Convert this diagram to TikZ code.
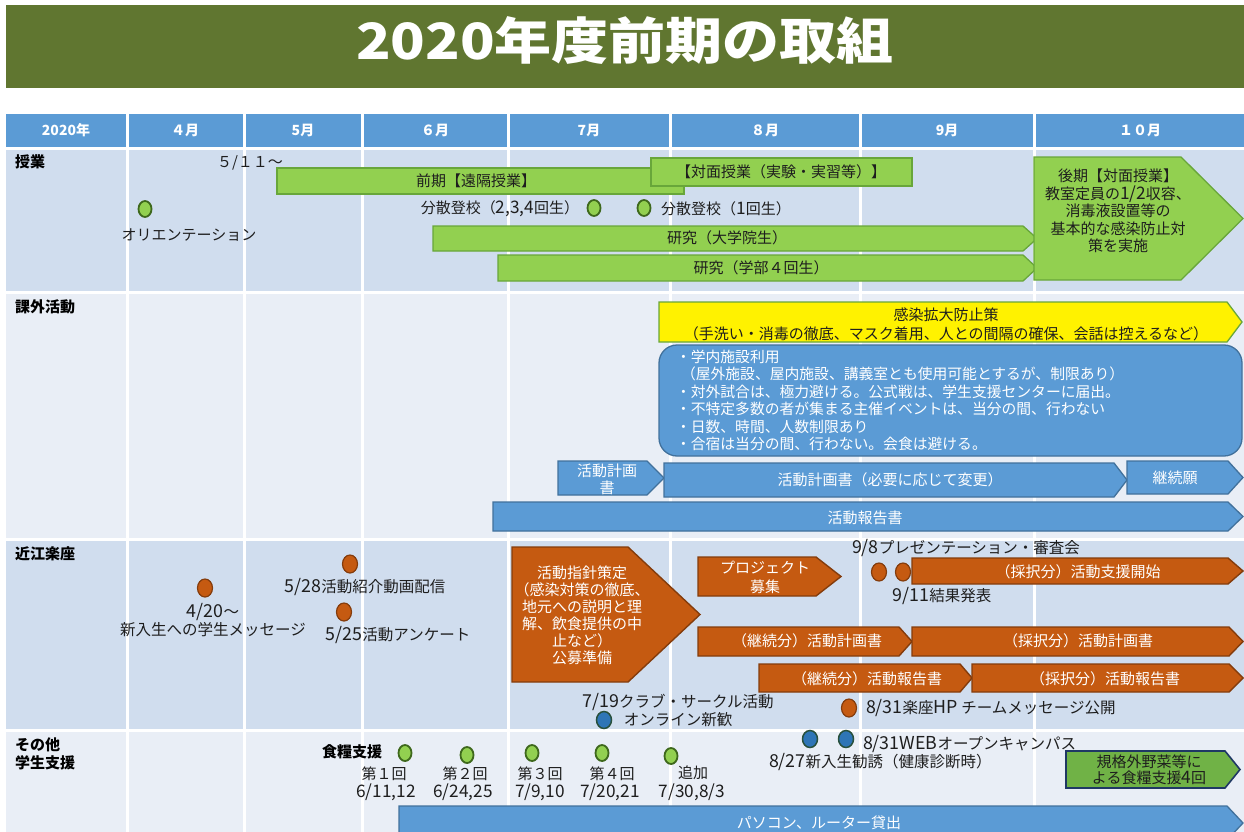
\documentclass[tikz,border=0pt]{standalone}
\usepackage{fontspec}
\usepackage{graphicx}
\setmainfont{Noto Sans CJK JP}
\newfontfamily\latfont{Noto Sans CJK JP}[Scale=1.15]
\newcommand\latn[1]{{\latfont #1}}
\usetikzlibrary{shapes.geometric}
\definecolor{titlegreen}{RGB}{96,118,48}
\definecolor{hdrblue}{RGB}{91,155,213}
\definecolor{rowA}{RGB}{208,221,238}
\definecolor{rowB}{RGB}{233,238,246}
\definecolor{lgreen}{RGB}{146,208,80}
\definecolor{lgreenD}{RGB}{104,166,58}
\definecolor{circG}{RGB}{62,104,28}
\definecolor{orng}{RGB}{197,90,17}
\definecolor{orngD}{RGB}{132,60,12}
\definecolor{bblue}{RGB}{91,155,213}
\definecolor{bblueD}{RGB}{65,113,156}
\definecolor{dblue}{RGB}{46,117,182}
\definecolor{dotrim}{RGB}{40,80,60}
\definecolor{navy}{RGB}{31,56,100}
\definecolor{kgreen}{RGB}{112,178,70}
\definecolor{txtc}{RGB}{30,30,30}
\newcommand\pentshape[6]{\draw[#1] (#2,#3) -- ({#4-#6},#3) -- (#4,{(#3+#5)/2}) -- ({#4-#6},#5) -- (#2,#5) -- cycle;}
\tikzset{
  every node/.style={inner sep=0pt, outer sep=0pt},
  txt/.style={text=txtc, font=\fontsize{15}{17.5}\selectfont, align=center},
  wtxt/.style={text=white, font=\fontsize{15}{17.5}\selectfont, align=center},
  lbl/.style={anchor=west, text=black, font=\fontsize{15}{18}\selectfont\bfseries, align=left},
  hdr/.style={text=white, font=\fontsize{14}{16}\selectfont\bfseries},
  gbar/.style={fill=lgreen, draw=lgreenD, line width=1.3pt},
  bbar/.style={fill=bblue, draw=bblueD, line width=1.3pt},
  obar/.style={fill=orng, draw=orngD, line width=1.4pt},
  ybar/.style={fill=yellow, draw=lgreenD, line width=1.3pt},
  kbar/.style={fill=kgreen, draw=navy, line width=1.6pt},
  gdot/.style={ellipse, minimum width=13pt, minimum height=16pt, fill=lgreen, draw=circG, line width=1.8pt},
  odot/.style={ellipse, minimum width=15pt, minimum height=18pt, fill=orng, draw=orngD, line width=1.2pt},
  bdot/.style={ellipse, minimum width=15pt, minimum height=17pt, fill=dblue, draw=dotrim, line width=1.5pt},
}
\begin{document}
\begin{tikzpicture}[x=1pt,y=-1pt]
\useasboundingbox (0,0) rectangle (1244,832);
\clip (0,0) rectangle (1244,832);
\fill[white] (0,0) rectangle (1244,832);
% title
\fill[titlegreen] (6,5) rectangle (1244,88);
\node[text=white, font=\fontsize{50}{55}\selectfont\bfseries] (title) at (625,41) {\scalebox{1.14}[1]{2020年度前期の取組}};
% grid
\fill[hdrblue] (6,114) rectangle (1244,147);
\fill[rowA] (6,150) rectangle (1244,291);
\fill[rowB] (6,294) rectangle (1244,538);
\fill[rowA] (6,541) rectangle (1244,729);
\fill[rowB] (6,732) rectangle (1244,832);
\foreach \x in {127,244,362,508,670,860,1034} \draw[white, line width=3pt] (\x,112) -- (\x,832);
% header
\node[hdr] (h0) at (66,130) {2020年};
\node[hdr] (h4) at (185,130) {４月};
\node[hdr] (h5) at (303,130) {5月};
\node[hdr] (h6) at (435,130) {６月};
\node[hdr] (h7) at (589,130) {7月};
\node[hdr] (h8) at (765,130) {８月};
\node[hdr] (h9) at (947,130) {9月};
\node[hdr] (h10) at (1140,130) {１０月};
% row labels
\node[lbl] (r1) at (15,162) {授業};
\node[lbl] (r2) at (15,307) {課外活動};
\node[lbl] (r3) at (15,554) {近江楽座};
\node[lbl, font=\fontsize{15}{18}\selectfont\bfseries] (r4) at (15,754) {その他\\学生支援};
% ---------- row 1
\node[txt] (d511) at (250,163) {５/１１～};
\draw[gbar] (277,168) rectangle (684,194);
\node[txt] (zenki) at (476,181) {前期【遠隔授業】};
\draw[gbar] (651,158) rectangle (912,186);
\node[txt] (taimen) at (781,172) {【対面授業（実験・実習等）】};
\node[gdot] (o1) at (145,209) {};
\node[txt] (ori) at (189,235) {オリエンテーション};
\node[txt] (bun1) at (500,209) {分散登校（\latn{2,3,4}回生）};
\node[gdot] (o2) at (594,208) {};
\node[gdot] (o3) at (644,208) {};
\node[txt] (bun2) at (726,209) {分散登校（\latn{1}回生）};
\pentshape{gbar}{433}{226}{1037}{251}{14}
\node[txt] (ken1) at (727,238) {研究（大学院生）};
\pentshape{gbar}{498}{255}{1037}{281}{14}
\node[txt] (ken2) at (761,268) {研究（学部４回生）};
\pentshape{gbar}{1034}{157}{1243}{280}{62}
\node[txt] (kouki) at (1118,211) {後期【対面授業】\\教室定員の\latn{1/2}収容、\\消毒液設置等の\\基本的な感染防止対\\策を実施};
% ---------- row 2
\pentshape{ybar}{659}{302}{1242}{342}{15}
\node[txt, font=\fontsize{15}{19}\selectfont] (kansen) at (946,324) {感染拡大防止策\\（手洗い・消毒の徹底、マスク着用、人との間隔の確保、会話は控えるなど）};
\draw[bbar, rounded corners=18pt] (659,345) rectangle (1242,456);
\node[wtxt, anchor=north west, align=left, font=\fontsize{14.8}{17.4}\selectfont] (rules) at (676,350) {・学内施設利用\\\hspace*{5pt}（屋外施設、屋内施設、講義室とも使用可能とするが、制限あり）\\・対外試合は、極力避ける。公式戦は、学生支援センターに届出。\\・不特定多数の者が集まる主催イベントは、当分の間、行わない\\・日数、時間、人数制限あり\\・合宿は当分の間、行わない。会食は避ける。};
\pentshape{bbar}{558}{461}{664}{495}{17}
\node[wtxt, font=\fontsize{15}{17}\selectfont] (keikaku1) at (607,479) {活動計画\\書};
\pentshape{bbar}{664}{463}{1127}{497}{13}
\node[wtxt] (keikaku2) at (890,480) {活動計画書（必要に応じて変更）};
\pentshape{bbar}{1127}{461}{1243}{494}{15}
\node[wtxt] (keizoku) at (1175,478) {継続願};
\pentshape{bbar}{493}{502}{1243}{531}{15}
\node[wtxt] (houkoku) at (865,518) {活動報告書};
% ---------- row 3
\node[odot] (p1) at (205,588) {};
\node[txt, font=\fontsize{15.5}{18}\selectfont] (m420) at (213,620) {\latn{4/20}～\\新入生への学生メッセージ};
\node[odot] (p2) at (350,564) {};
\node[txt, font=\fontsize{15.5}{18}\selectfont] (m528) at (365,587) {\latn{5/28}活動紹介動画配信};
\node[odot] (p3) at (344,612) {};
\node[txt, font=\fontsize{15.5}{18}\selectfont] (m525) at (398,635) {\latn{5/25}活動アンケート};
\pentshape{obar}{512}{547}{700}{682}{72}
\node[wtxt, font=\fontsize{15}{17}\selectfont] (shishin) at (582,615) {活動指針策定\\（感染対策の徹底、\\地元への説明と理\\解、飲食提供の中\\止など）\\公募準備};
\node[txt, font=\fontsize{15.5}{18}\selectfont] (m719) at (678,702) {\latn{7/19}クラブ・サークル活動};
\node[bdot] (q1) at (604,720) {};
\node[txt, font=\fontsize{15.5}{18}\selectfont] (shinkan) at (678,720) {オンライン新歓};
\pentshape{obar}{698}{557}{841}{596}{25}
\node[wtxt, font=\fontsize{15}{19}\selectfont] (boshu) at (765,577) {プロジェクト\\募集};
\node[txt, font=\fontsize{15.5}{18}\selectfont] (m98) at (966,548) {\latn{9/8}プレゼンテーション・審査会};
\node[odot] (p4) at (879,572) {};
\node[odot] (p5) at (903,572) {};
\pentshape{obar}{912}{558}{1243}{584}{15}
\node[wtxt] (shien) at (1078,572) {（採択分）活動支援開始};
\node[txt, font=\fontsize{15.5}{18}\selectfont] (m911) at (942,596) {\latn{9/11}結果発表};
\pentshape{obar}{698}{627}{912}{656}{13}
\node[wtxt] (kk1) at (807,641) {（継続分）活動計画書};
\pentshape{obar}{912}{627}{1243}{656}{14}
\node[wtxt] (kk2) at (1078,641) {（採択分）活動計画書};
\pentshape{obar}{759}{664}{972}{692}{12}
\node[wtxt] (kh1) at (867,679) {（継続分）活動報告書};
\pentshape{obar}{972}{664}{1243}{692}{14}
\node[wtxt] (kh2) at (1105,679) {（採択分）活動報告書};
\node[odot] (p6) at (849,708) {};
\node[txt, anchor=west, font=\fontsize{15.5}{18}\selectfont] (m831) at (866,708) {\latn{8/31}楽座\latn{HP} チームメッセージ公開};
% ---------- row 4
\node[txt, font=\fontsize{15}{18}\selectfont\bfseries, text=black] (shokuryo) at (352,752) {食糧支援};
\node[gdot] (g1) at (405,753) {};
\node[gdot] (g2) at (467,755) {};
\node[gdot] (g3) at (532,753) {};
\node[gdot] (g4) at (602,753) {};
\node[gdot] (g5) at (671,756) {};
\node[txt] (k1) at (384,774) {第１回};
\node[txt] (k2) at (465,774) {第２回};
\node[txt] (k3) at (540,774) {第３回};
\node[txt] (k4) at (612,774) {第４回};
\node[txt] (k5) at (693,773) {追加};
\node[txt] (t1) at (386,792) {\latn{6/11,12}};
\node[txt] (t2) at (463,792) {\latn{6/24,25}};
\node[txt] (t3) at (540,792) {\latn{7/9,10}};
\node[txt] (t4) at (610,792) {\latn{7/20,21}};
\node[txt] (t5) at (692,792) {\latn{7/30,8/3}};
\node[bdot] (q2) at (810,739) {};
\node[bdot] (q3) at (846,739) {};
\node[txt, anchor=west, font=\fontsize{15.5}{18}\selectfont] (web) at (863,744) {\latn{8/31WEB}オープンキャンパス};
\node[txt, anchor=west, font=\fontsize{15.5}{18}\selectfont] (kanyu) at (769,762) {\latn{8/27}新入生勧誘（健康診断時）};
\pentshape{kbar}{1066}{751}{1240}{788}{15}
\node[txt, font=\fontsize{15}{16.5}\selectfont] (kikaku) at (1149,770) {規格外野菜等に\\よる食糧支援\latn{4}回};
\pentshape{bbar}{399}{806}{1243}{840}{16}
\node[wtxt] (pc) at (819,823) {パソコン、ルーター貸出};
\end{tikzpicture}
\end{document}
